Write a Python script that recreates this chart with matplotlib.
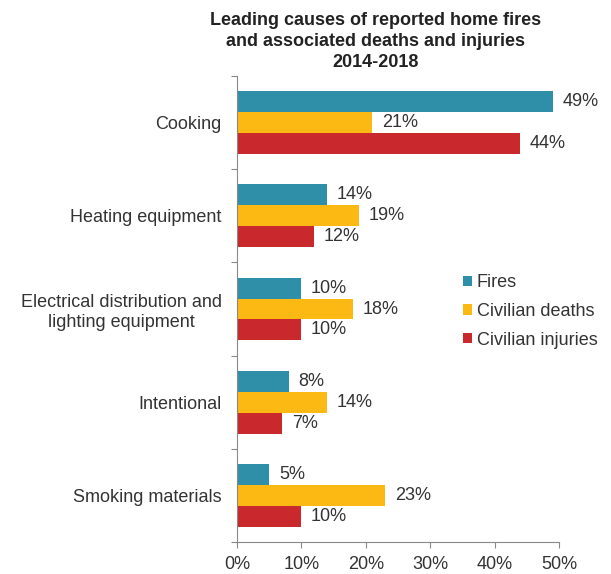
import numpy as np
import matplotlib.pyplot as plt

categories = ['Cooking', 'Heating equipment', 'Electrical distribution and\nlighting equipment',
              'Intentional', 'Smoking materials']
fires = [49, 14, 10, 8, 5]
deaths = [21, 19, 18, 14, 23]
injuries = [44, 12, 10, 7, 10]
series_names = ['Fires', 'Civilian deaths', 'Civilian injuries']
colors = ['#2f8fa8', '#fdb913', '#c9282d']

plt.rcParams['font.family'] = ['Liberation Sans', 'DejaVu Sans']
txt = '#333333'
fs = 13

fig = plt.figure(figsize=(6.11, 5.74), dpi=100)
ax = fig.add_axes([237 / 611, 1 - 542 / 574, (559 - 237) / 611, (542 - 76) / 574])

y = np.arange(len(categories))
h = 0.225
for i, (vals, name, c) in enumerate(zip([fires, deaths, injuries], series_names, colors)):
    pos = y + (i - 1) * h
    ax.barh(pos, vals, height=h, color=c, label=name)
    for p, v in zip(pos, vals):
        ax.text(v + 1.5, p, f'{v}%', va='center', ha='left', fontsize=fs, color=txt)

ax.set_ylim(len(categories) - 0.5, -0.5)
ax.set_xlim(0, 50)
ax.set_xticks(range(0, 51, 10))
ax.set_xticklabels([f'{t}%' for t in range(0, 51, 10)], fontsize=fs, color=txt)
ax.set_yticks(np.arange(-0.5, len(categories), 1.0))
ax.set_yticklabels([])
ax.set_yticks(y, minor=True)
ax.set_yticklabels(categories, minor=True, fontsize=fs, color=txt, ha='right',
                   multialignment='center')
ax.tick_params(axis='y', which='minor', length=0, pad=11)
ax.tick_params(axis='y', which='major', length=4, color='#888888')
ax.tick_params(axis='x', length=4, color='#888888', pad=6)
for s in ['top', 'right']:
    ax.spines[s].set_visible(False)
for s in ['left', 'bottom']:
    ax.spines[s].set_color('#888888')

ax.legend(loc='upper left', bbox_to_anchor=(447 / 611, 1 - 258 / 574), bbox_transform=fig.transFigure,
          frameon=False, fontsize=fs, handlelength=0.5, handleheight=0.5, handletextpad=0.25,
          labelspacing=0.65, labelcolor=txt)

fig.text(376 / 611, 1 - 12 / 574,
         'Leading causes of reported home fires\nand associated deaths and injuries\n2014-2018',
         ha='center', va='top', fontsize=fs, fontweight='bold', color='#222222', linespacing=1.3)

plt.savefig('out.png', dpi=100)
